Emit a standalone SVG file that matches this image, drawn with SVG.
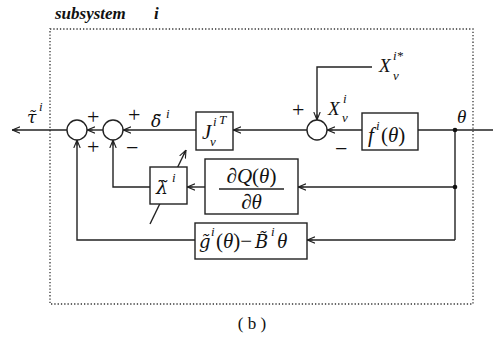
<svg xmlns="http://www.w3.org/2000/svg" width="493" height="341" viewBox="0 0 493 341">
<defs>
<marker id="ar" viewBox="0 0 10 10" refX="10" refY="5" markerWidth="8" markerHeight="8" orient="auto" markerUnits="userSpaceOnUse">
<path d="M0,1 L10,5 L0,9 M3,5 L10,5" fill="none" stroke="#222" stroke-width="1.4"/>
</marker>
</defs>
<style>
.ln{fill:none;stroke:#222;stroke-width:1.4}
.bx{fill:#fff;stroke:#222;stroke-width:1.4}
text{font-family:"Liberation Serif",serif;fill:#111}
.m{font-style:italic}
.big{font-size:21px}
.mid{font-size:19px}
.sup{font-size:13px;font-style:italic}
.pm{font-size:22px}
.dv{font-family:"DejaVu Serif",serif;font-style:italic}
</style>
<rect width="493" height="341" fill="#fff"/>
<text x="55" y="19" class="m" font-size="17" font-weight="bold">subsystem</text>
<text x="154" y="19" class="m" font-size="17" font-weight="bold">i</text>
<rect x="50" y="29" width="423" height="275" fill="none" stroke="#333" stroke-width="1.3" stroke-dasharray="1.3 2"/>

<g id="connectors">
<line x1="67" y1="130" x2="12" y2="130" class="ln" marker-end="url(#ar)"/>
<line x1="103" y1="130" x2="87" y2="130" class="ln" marker-end="url(#ar)"/>
<line x1="196" y1="130" x2="123" y2="130" class="ln" marker-end="url(#ar)"/>
<line x1="307" y1="130" x2="233" y2="130" class="ln" marker-end="url(#ar)"/>
<line x1="362" y1="130" x2="327" y2="130" class="ln" marker-end="url(#ar)"/>
<line x1="493" y1="130" x2="418" y2="130" class="ln"/>
<polyline points="372,67 317,67 317,120" class="ln" marker-end="url(#ar)"/>
<polyline points="455,130 455,240" class="ln"/>
<line x1="455" y1="187" x2="298" y2="187" class="ln" marker-end="url(#ar)"/>
<line x1="455" y1="240" x2="307" y2="240" class="ln" marker-end="url(#ar)"/>
<line x1="205" y1="187" x2="187" y2="187" class="ln" marker-end="url(#ar)"/>
<polyline points="150,187 113,187 113,140" class="ln" marker-end="url(#ar)"/>
<polyline points="195,240 77,240 77,140" class="ln" marker-end="url(#ar)"/>
<line x1="150" y1="224" x2="186" y2="150" class="ln" marker-end="url(#ar)"/>
<circle cx="455" cy="130" r="2.3" fill="#111"/>
<circle cx="455" cy="187" r="2.3" fill="#111"/>
</g>

<g id="sum1">
<circle cx="77" cy="130" r="10" class="bx"/>
<text x="87" y="124" class="pm">+</text>
<text x="87" y="154" class="pm">+</text>
</g>
<g id="sum2">
<circle cx="113" cy="130" r="10" class="bx"/>
<text x="128" y="122" class="pm">+</text>
<text x="126" y="155" class="pm">−</text>
</g>
<g id="sum3">
<circle cx="317" cy="130" r="10" class="bx"/>
<text x="292" y="117" class="pm">+</text>
<text x="335" y="156" class="pm">−</text>
</g>

<g id="labels">
<text x="27" y="123" class="dv" font-size="17">τ̃</text>
<text x="39" y="111" class="sup">i</text>
<text x="151" y="127" class="dv" font-size="17">δ̃</text>
<text x="166" y="118" class="sup">i</text>
<text x="328" y="115" class="m mid">X</text>
<text x="343" y="103" class="sup">i</text>
<text x="342" y="122" class="sup">v</text>
<text x="379" y="72" class="m mid">X</text>
<text x="393" y="60" class="sup">i*</text>
<text x="393" y="80" class="sup">v</text>
<text x="457" y="123" class="m mid">θ</text>
</g>

<g id="J">
<rect x="196" y="112" width="37" height="38" class="bx"/>
<text x="202" y="139" class="m big">J</text>
<text x="213" y="126" class="sup">i</text>
<text x="219" y="124" class="sup">T</text>
<text x="210" y="146" class="sup">v</text>
</g>
<g id="f">
<rect x="362" y="113" width="56" height="37" class="bx"/>
<text x="368" y="142" class="m big">f</text>
<text x="376" y="130" class="sup">i</text>
<text x="381" y="142" class="big">(<tspan class="m">θ</tspan>)</text>
</g>
<g id="dQ">
<rect x="205" y="159" width="93" height="55" class="bx"/>
<text x="251.5" y="183" class="big" text-anchor="middle"><tspan class="m">∂Q</tspan>(<tspan class="m">θ</tspan>)</text>
<line x1="219" y1="189" x2="284" y2="189" class="ln"/>
<text x="251.5" y="209" class="m big" text-anchor="middle">∂θ</text>
</g>
<g id="lambda">
<rect x="150" y="167" width="37" height="37" class="bx"/>
<text x="156" y="194" class="dv" font-size="19">λ̃</text>
<text x="172" y="182" class="sup">i</text>
</g>
<g id="g">
<rect x="195" y="223" width="112" height="36" class="bx"/>
<text x="199" y="248" class="dv" font-size="18">g̃</text>
<text x="211" y="236" class="sup">i</text>
<text x="216" y="248" class="big">(<tspan class="m">θ</tspan>)−</text>
<text x="255" y="248" class="dv" font-size="18">B̃</text>
<text x="271" y="236" class="sup">i</text>
<text x="277" y="248" class="m big">θ</text>
</g>
<text x="252" y="329" font-size="17" text-anchor="middle">( b )</text>
</svg>
